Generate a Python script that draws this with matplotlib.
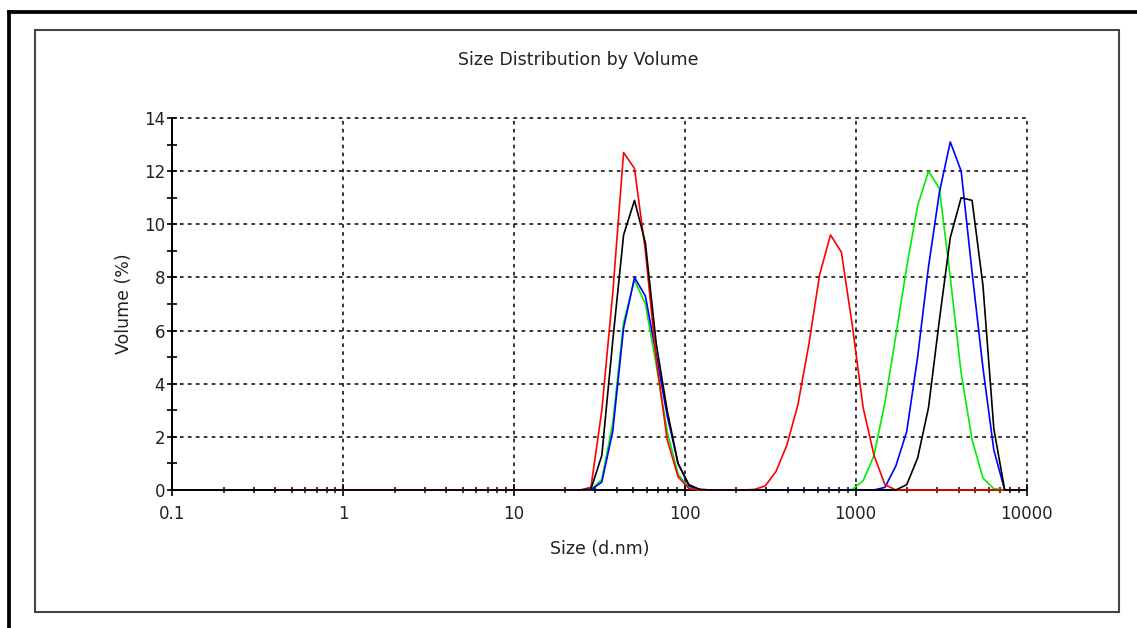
import matplotlib
matplotlib.use("Agg")
import matplotlib.pyplot as plt
from matplotlib.ticker import (LogLocator, FixedLocator, FixedFormatter,
                               MultipleLocator, NullFormatter)
from matplotlib.lines import Line2D
from matplotlib.patches import Rectangle

plt.rcParams['font.family'] = ['DejaVu Sans']

# ---------------- data (Malvern size classes, nm) ----------------
sizes_nm = [0.4, 0.4632, 0.5365, 0.6213, 0.7195, 0.8332, 0.9649, 1.117, 1.294, 1.499,
            1.736, 2.010, 2.328, 2.696, 3.122, 3.615, 4.187, 4.849, 5.615, 6.503,
            7.531, 8.721, 10.10, 11.70, 13.54, 15.69, 18.17, 21.04, 24.36, 28.21,
            32.67, 37.84, 43.82, 50.75, 58.77, 68.06, 78.82, 91.28, 105.7, 122.4,
            141.8, 164.2, 190.1, 220.2, 255.0, 295.3, 342.0, 396.1, 458.7, 531.2,
            615.1, 712.4, 825.0, 955.4, 1106, 1281, 1484, 1718, 1990, 2305,
            2669, 3091, 3580, 4145, 4801, 5560, 6439, 7456, 8635, 10000]

#                0     1     2     3     4     5     6     7     8     9
vol_red =   [0.0,  0.0,  0.0,  0.0,  0.0,  0.0,  0.0,  0.0,  0.0,  0.0,
             0.0,  0.0,  0.0,  0.0,  0.0,  0.0,  0.0,  0.0,  0.0,  0.0,
             0.0,  0.0,  0.0,  0.0,  0.0,  0.0,  0.0,  0.0,  0.0,  0.1,
             3.0,  7.4,  12.7, 12.1, 9.0,  4.9,  1.9,  0.5,  0.05, 0.0,
             0.0,  0.0,  0.0,  0.0,  0.02, 0.15, 0.7,  1.7,  3.2,  5.45,
             8.1,  9.6,  8.95, 6.2,  3.1,  1.3,  0.2,  0.0,  0.0,  0.0,
             0.0,  0.0,  0.0,  0.0,  0.0,  0.0,  0.0,  0.0,  0.0,  0.0]

vol_black = [0.0,  0.0,  0.0,  0.0,  0.0,  0.0,  0.0,  0.0,  0.0,  0.0,
             0.0,  0.0,  0.0,  0.0,  0.0,  0.0,  0.0,  0.0,  0.0,  0.0,
             0.0,  0.0,  0.0,  0.0,  0.0,  0.0,  0.0,  0.0,  0.0,  0.03,
             1.3,  5.6,  9.6,  10.9, 9.3,  5.5,  3.0,  1.0,  0.2,  0.02,
             0.0,  0.0,  0.0,  0.0,  0.0,  0.0,  0.0,  0.0,  0.0,  0.0,
             0.0,  0.0,  0.0,  0.0,  0.0,  0.0,  0.0,  0.0,  0.2,  1.2,
             3.1,  6.4,  9.5,  11.0, 10.9, 7.7,  2.3,  0.0,  0.0,  0.0]

vol_blue =  [0.0,  0.0,  0.0,  0.0,  0.0,  0.0,  0.0,  0.0,  0.0,  0.0,
             0.0,  0.0,  0.0,  0.0,  0.0,  0.0,  0.0,  0.0,  0.0,  0.0,
             0.0,  0.0,  0.0,  0.0,  0.0,  0.0,  0.0,  0.0,  0.0,  0.0,
             0.3,  2.2,  6.1,  8.0,  7.3,  5.1,  2.8,  1.0,  0.15, 0.02,
             0.0,  0.0,  0.0,  0.0,  0.0,  0.0,  0.0,  0.0,  0.0,  0.0,
             0.0,  0.0,  0.0,  0.0,  0.0,  0.0,  0.1,  0.9,  2.2,  5.0,
             8.4,  11.2, 13.1, 12.0, 8.2,  4.6,  1.5,  0.0,  0.0,  0.0]

vol_green = [0.0,  0.0,  0.0,  0.0,  0.0,  0.0,  0.0,  0.0,  0.0,  0.0,
             0.0,  0.0,  0.0,  0.0,  0.0,  0.0,  0.0,  0.0,  0.0,  0.0,
             0.0,  0.0,  0.0,  0.0,  0.0,  0.0,  0.0,  0.0,  0.0,  0.0,
             0.4,  2.5,  6.3,  7.9,  7.0,  4.7,  2.2,  0.6,  0.08, 0.0,
             0.0,  0.0,  0.0,  0.0,  0.0,  0.0,  0.0,  0.0,  0.0,  0.0,
             0.0,  0.0,  0.0,  0.02, 0.35, 1.3,  3.3,  5.8,  8.4,  10.7,
             12.0, 11.35, 8.0, 4.4,  1.9,  0.45, 0.05, 0.0,  0.0,  0.0]

x_ticks = [0.1, 1, 10, 100, 1000, 10000]
x_tick_labels = ['0.1', '1', '10', '100', '1000', '10000']

title_text = 'Size Distribution by Volume'
x_label = 'Size (d.nm)'
y_label = 'Volume (%)'

# ---------------- figure ----------------
W, H = 1137, 628
fig = plt.figure(figsize=(W / 100, H / 100), dpi=100)
fig.patch.set_facecolor('white')

ax_l, ax_r, ax_t, ax_b = 172.3, 1026.5, 118.0, 490.0
ax = fig.add_axes([ax_l / W, (H - ax_b) / H, (ax_r - ax_l) / W, (ax_b - ax_t) / H])
ax.set_facecolor('white')

series = [(vol_green, '#00ee00'), (vol_blue, '#0000ff'),
          (vol_red, '#ff0000'), (vol_black, '#000000')]
for vals, col in series:
    ax.plot(sizes_nm, vals, color=col, lw=1.2, clip_on=False, zorder=3)

ax.set_xscale('log')
ax.set_xlim(0.1, 10000)
ax.set_ylim(0, 14)

ax.xaxis.set_major_locator(FixedLocator(x_ticks))
ax.xaxis.set_major_formatter(FixedFormatter(x_tick_labels))
ax.xaxis.set_minor_locator(LogLocator(base=10, subs=range(2, 10), numticks=20))
ax.xaxis.set_minor_formatter(NullFormatter())
ax.yaxis.set_major_locator(MultipleLocator(2))
ax.yaxis.set_minor_locator(MultipleLocator(1))

ax.set_axisbelow(True)
ax.grid(True, which='major', color='black', linestyle=(0, (2.4, 2.8)), lw=1.1)
for gl in ax.get_xgridlines() + ax.get_ygridlines():
    gl.set_clip_on(False)

for s in ('top', 'right'):
    ax.spines[s].set_visible(False)
for s in ('left', 'bottom'):
    ax.spines[s].set_color('black')
    ax.spines[s].set_linewidth(1.4)

txt_col = '#222222'
ax.tick_params(axis='x', which='major', direction='inout', length=9, width=1.2,
               pad=6, labelsize=12, labelcolor=txt_col, color='black')
ax.tick_params(axis='x', which='minor', direction='inout', length=5, width=1.1,
               color='black')
ax.tick_params(axis='y', which='both', direction='inout', length=7.5, width=1.2,
               pad=1.5, labelsize=12, labelcolor=txt_col, color='black')

ax.set_xlabel(x_label, fontsize=12.5, color=txt_col)
ax.xaxis.set_label_coords((600 - ax_l) / (ax_r - ax_l), -(549 - ax_b) / (ax_b - ax_t))
ax.xaxis.label.set_va('center')
ax.set_ylabel(y_label, fontsize=12.5, color=txt_col)
ax.yaxis.set_label_coords((124 - ax_l) / (ax_r - ax_l), 0.5)
ax.yaxis.label.set_va('center')

ax.set_title(title_text, fontsize=12.5, color=txt_col,
             x=(578 - ax_l) / (ax_r - ax_l), y=1 + (ax_t - 60) / (ax_b - ax_t),
             pad=0, va='center')

# ---------------- frames ----------------
fig.add_artist(Line2D([9.2 / W, 9.2 / W], [0, 1 - 12.3 / H], color='black', lw=2.7,
                      solid_capstyle='projecting', transform=fig.transFigure))
fig.add_artist(Line2D([9.2 / W, 1.0], [1 - 12.3 / H, 1 - 12.3 / H], color='black', lw=2.7,
                      solid_capstyle='projecting', transform=fig.transFigure))
fig.add_artist(Rectangle((34.8 / W, 1 - 611.7 / H), (1119.3 - 34.8) / W, (611.7 - 29.5) / H,
                         fill=False, edgecolor='#444444', lw=1.5, transform=fig.transFigure))

fig.savefig('out.png', dpi=100)
